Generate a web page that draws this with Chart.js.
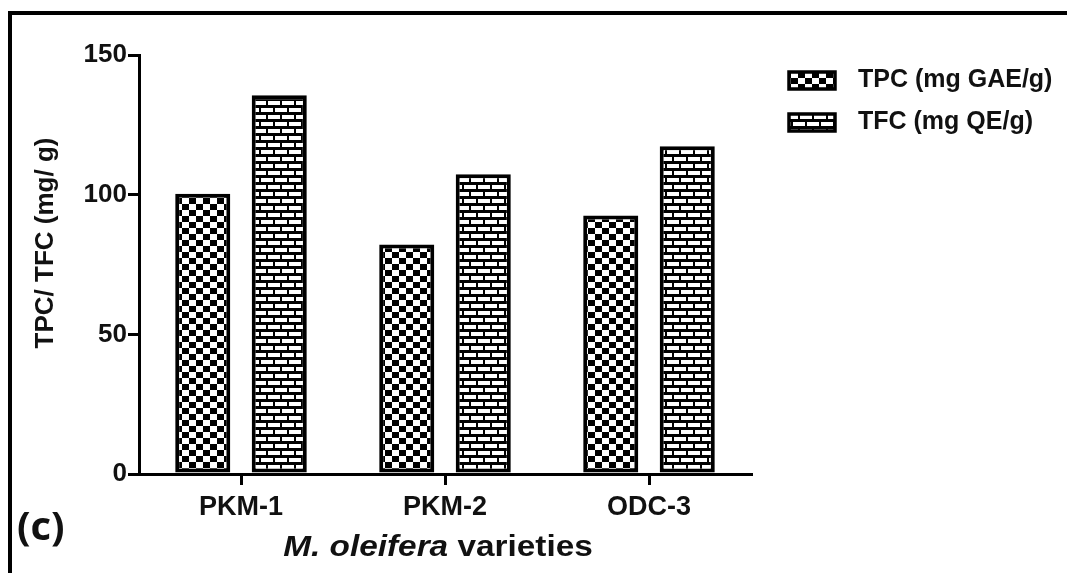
<!DOCTYPE html>
<html>
<head>
<meta charset="utf-8">
<script src="https://cdn.jsdelivr.net/npm/chart.js@4.4.1/dist/chart.umd.min.js"></script>
<style>
  html, body { margin: 0; padding: 0; background: #fff; }
  #wrap { position: relative; width: 1067px; height: 573px; }
  #frameTop { position: absolute; left: 8px; top: 11px; width: 1059px; height: 4px; background: #000; }
  #frameLeft { position: absolute; left: 8px; top: 11px; width: 4px; height: 562px; background: #000; }
  canvas { position: absolute; left: 0; top: 0; }
</style>
</head>
<body>
<div id="wrap">
  <canvas id="chart" width="1067" height="573"></canvas>
  <div id="frameTop"></div>
  <div id="frameLeft"></div>
</div>
<script>
// ── data ──
const varieties = ['PKM-1', 'PKM-2', 'ODC-3'];
const tpcValues = [100.3, 82.2, 92.5];
const tfcValues = [135.6, 107.3, 117.3];
const seriesNames = ['TPC (mg GAE/g)', 'TFC (mg QE/g)'];
const yTicks = [0, 50, 100, 150];

Chart.defaults.font.family = '"Liberation Sans", Arial, sans-serif';
Chart.defaults.color = '#111';

const ctx = document.getElementById('chart').getContext('2d');

// ── hatch patterns ──
function checkerPattern() {
  const c = document.createElement('canvas');
  c.width = 14; c.height = 12;
  const g = c.getContext('2d');
  g.fillStyle = '#fff'; g.fillRect(0, 0, 14, 12);
  g.fillStyle = '#000';
  g.fillRect(0, 0, 7, 6);
  g.fillRect(7, 6, 7, 6);
  return ctx.createPattern(c, 'repeat');
}

function brickPattern() {
  const c = document.createElement('canvas');
  c.width = 28; c.height = 14;
  const g = c.getContext('2d');
  g.fillStyle = '#fff'; g.fillRect(0, 0, 28, 14);
  g.fillStyle = '#000';
  g.fillRect(0, 0, 28, 3);
  g.fillRect(0, 7, 28, 3);
  g.fillRect(0, 3, 2, 4);
  g.fillRect(14, 3, 2, 4);
  g.fillRect(7, 10, 2, 4);
  g.fillRect(21, 10, 2, 4);
  return ctx.createPattern(c, 'repeat');
}

const tpcFill = checkerPattern();
const tfcFill = brickPattern();

// ── titles, legend and panel letter ──
const extras = {
  id: 'extras',
  afterDraw(chart) {
    const g = chart.ctx;
    g.save();
    g.fillStyle = '#111';

    // y title
    g.save();
    g.translate(46, 243);
    g.rotate(-Math.PI / 2);
    g.font = 'bold 26px "Liberation Sans", Arial, sans-serif';
    g.textAlign = 'center';
    g.textBaseline = 'middle';
    g.fillText('TPC/ TFC (mg/ g)', 0, 0);
    g.restore();

    // x title: italic species + plain word, a little wider like the source
    const p1 = 'M. oleifera', p2 = ' varieties';
    const fIt = 'italic bold 29px "Liberation Sans", Arial, sans-serif';
    const fRm = 'bold 29px "Liberation Sans", Arial, sans-serif';
    const sx = 1.15;
    g.textBaseline = 'middle';
    g.textAlign = 'left';
    g.font = fIt;
    const w1 = g.measureText(p1).width;
    g.font = fRm;
    const w2 = g.measureText(p2).width;
    g.save();
    g.translate(438 - (w1 + w2) * sx / 2, 548);
    g.scale(sx, 1);
    g.font = fIt;
    g.fillText(p1, 0, 0);
    g.font = fRm;
    g.fillText(p2, w1, 0);
    g.restore();

    // legend
    const fills = [tpcFill, tfcFill];
    g.font = 'bold 25px "Liberation Sans", Arial, sans-serif';
    seriesNames.forEach((name, i) => {
      const cy = 80 + i * 42;
      g.fillStyle = fills[i];
      g.fillRect(789, cy - 8, 46, 17);
      g.lineWidth = 3.5;
      g.strokeStyle = '#000';
      g.strokeRect(789, cy - 8, 46, 17);
      g.fillStyle = '#111';
      g.fillText(name, 858, cy);
    });

    // panel letter
    g.font = 'bold 40px "Open Sans", Lato, sans-serif';
    g.fillText('(c)', 17, 529);
    g.restore();
  }
};

new Chart(ctx, {
  type: 'bar',
  data: {
    labels: varieties,
    datasets: [
      { label: seriesNames[0], data: tpcValues, backgroundColor: tpcFill, borderColor: '#000', borderWidth: 4, borderSkipped: false },
      { label: seriesNames[1], data: tfcValues, backgroundColor: tfcFill, borderColor: '#000', borderWidth: 4, borderSkipped: false }
    ]
  },
  options: {
    responsive: false,
    animation: false,
    categoryPercentage: 0.75,
    barPercentage: 0.72,
    layout: { padding: { left: 0, top: 55, right: 316, bottom: 0 } },
    plugins: { legend: { display: false }, tooltip: { enabled: false } },
    scales: {
      x: {
        grid: { display: true, drawOnChartArea: false, drawTicks: true, tickLength: 11, lineWidth: 3, color: '#000', offset: false },
        border: { display: true, width: 3, color: '#000' },
        ticks: { color: '#111', font: { size: 27, weight: 'bold' }, padding: 6 },
        afterFit: s => { s.height = 99; }
      },
      y: {
        min: 0, max: 150,
        afterBuildTicks: s => { s.ticks = yTicks.map(v => ({ value: v })); },
        grid: { display: true, drawOnChartArea: false, drawTicks: true, tickLength: 11, lineWidth: 3, color: '#000' },
        border: { display: true, width: 3, color: '#000' },
        ticks: { color: '#111', font: { size: 26, weight: 'bold' }, padding: 1 },
        afterFit: s => { s.width = 139; }
      }
    }
  },
  plugins: [extras]
});
</script>
</body>
</html>
